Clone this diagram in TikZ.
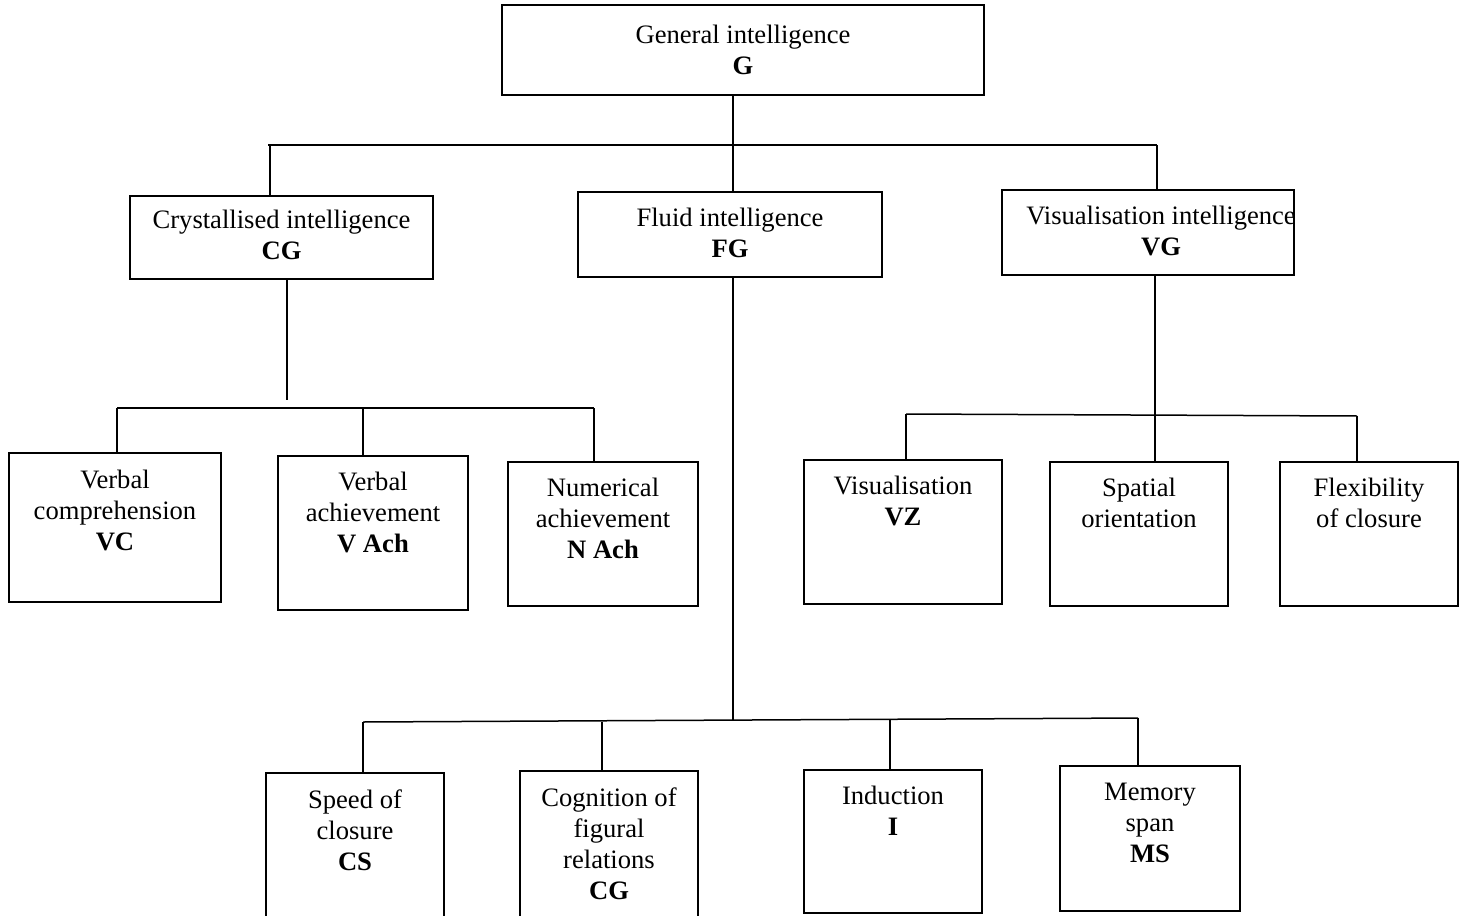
\documentclass[tikz,border=0pt]{standalone}
\usepackage{fontspec}
\setmainfont{Liberation Serif}
\begin{document}
\begin{tikzpicture}[x=0.5pt,y=-0.5pt,
  box/.style={draw, line width=0.9pt, inner sep=0pt},
  lbl/.style={anchor=north, align=center, inner sep=0pt, font=\fontsize{13.3pt}{15.5pt}\selectfont},
  conn/.style={line width=0.75pt},
  busthick/.style={line width=1.3pt}]
\useasboundingbox (0,0) rectangle (1466,915);
\clip (0,0) rectangle (1466,915);
% boxes
\node[box, minimum width=241pt, minimum height=45pt] (g) at (743,50) {};
\node[box, minimum width=151.5pt, minimum height=41.5pt] (cg) at (281.5,237.5) {};
\node[box, minimum width=152pt, minimum height=42.5pt] (fg) at (730,234.5) {};
\node[box, minimum width=146pt, minimum height=42.5pt] (vg) at (1148,232.5) {};
\node[box, minimum width=106pt, minimum height=74.5pt] (vc) at (115,527.5) {};
\node[box, minimum width=95pt, minimum height=77pt] (vach) at (373,533) {};
\node[box, minimum width=95pt, minimum height=72pt] (nach) at (603,534) {};
\node[box, minimum width=99pt, minimum height=72pt] (vz) at (903,532) {};
\node[box, minimum width=89pt, minimum height=72pt] (so) at (1139,534) {};
\node[box, minimum width=89pt, minimum height=72pt] (fc) at (1369,534) {};
\node[box, minimum width=89pt, minimum height=78.5pt] (cs) at (355,851.5) {};
\node[box, minimum width=89pt, minimum height=79.5pt] (cf) at (609,850.5) {};
\node[box, minimum width=89pt, minimum height=71.5pt] (ind) at (893,841.5) {};
\node[box, minimum width=90pt, minimum height=72.5pt] (ms) at (1150,838.5) {};
% labels
\node[lbl] (gt) at (743,21) {\strut General intelligence\\\textbf{G}};
\node[lbl] (cgt) at (281.5,206) {\strut Crystallised intelligence\\\textbf{CG}};
\node[lbl] (fgt) at (730,204) {\strut Fluid intelligence\\\textbf{FG}};
\node[lbl] (vgt) at (1161,202) {\strut Visualisation intelligence\\\textbf{VG}};
\node[lbl] (vct) at (115,466) {\strut Verbal\\comprehension\\\textbf{VC}};
\node[lbl] (vacht) at (373,468) {\strut Verbal\\achievement\\\textbf{V Ach}};
\node[lbl] (nacht) at (603,474) {\strut Numerical\\achievement\\\textbf{N Ach}};
\node[lbl] (vzt) at (903,472) {\strut Visualisation\\\textbf{VZ}};
\node[lbl] (sot) at (1139,474) {\strut Spatial\\orientation};
\node[lbl] (fct) at (1369,474) {\strut Flexibility\\of closure};
\node[lbl] (cst) at (355,786) {\strut Speed of\\closure\\\textbf{CS}};
\node[lbl] (cft) at (609,784) {\strut Cognition of\\figural\\relations\\\textbf{CG}};
\node[lbl] (indt) at (893,782) {\strut Induction\\\textbf{I}};
\node[lbl] (mst) at (1150,778) {\strut Memory\\span\\\textbf{MS}};
% bus coordinates
\coordinate (gs) at (733,95);
\coordinate (b1l) at (268,145);
\coordinate (b1r) at (1157,145);
\coordinate (c1) at (270,145);
\coordinate (cgs) at (287,400);
\coordinate (b2l) at (117,408);
\coordinate (b2m) at (363,408);
\coordinate (b2r) at (594,408);
\coordinate (b3l) at (906,414);
\coordinate (b3m) at (1155,414);
\coordinate (b3r) at (1357,416);
\coordinate (b4l) at (363,722);
\coordinate (b4a) at (602,722);
\coordinate (b4m) at (733,721);
\coordinate (b4b) at (890,720);
\coordinate (b4r) at (1138,718);
% connectors
\draw[conn] (gs) -- (gs |- fg.north);
\draw[busthick] (b1l) -- (b1r);
\draw[conn] (c1) -- (c1 |- cg.north);
\draw[conn] (b1r) -- (b1r |- vg.north);
\draw[conn] (cgs |- cg.south) -- (cgs);
\draw[conn] (b2l) -- (b2r);
\draw[conn] (b2l) -- (b2l |- vc.north);
\draw[conn] (b2m) -- (b2m |- vach.north);
\draw[conn] (b2r) -- (b2r |- nach.north);
\draw[conn] (b3m |- vg.south) -- (b3m |- so.north);
\draw[conn] (b3l) -- (b3r);
\draw[conn] (b3l) -- (b3l |- vz.north);
\draw[conn] (b3r) -- (b3r |- fc.north);
\draw[conn] (b4m |- fg.south) -- (b4m);
\draw[conn] (b4l) -- (b4r);
\draw[conn] (b4l) -- (b4l |- cs.north);
\draw[conn] (b4a) -- (b4a |- cf.north);
\draw[conn] (b4b) -- (b4b |- ind.north);
\draw[conn] (b4r) -- (b4r |- ms.north);
\end{tikzpicture}
\end{document}
